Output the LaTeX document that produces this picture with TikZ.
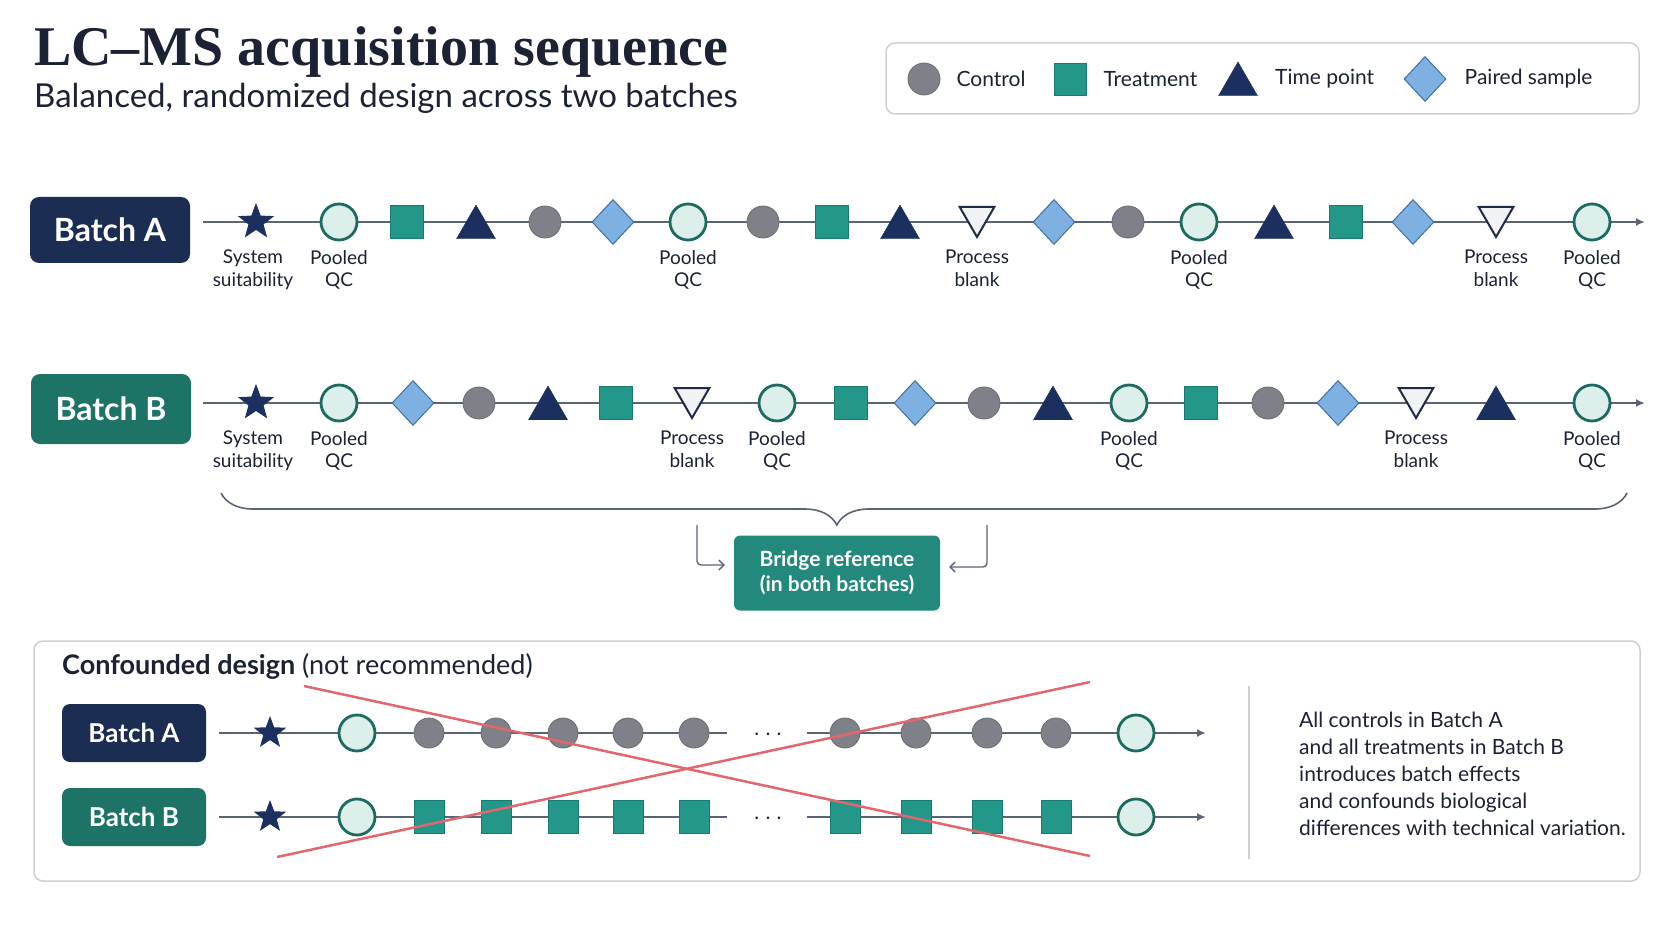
\documentclass[tikz,border=0pt]{standalone}
\usepackage{fontspec}
\setmainfont{Lato}
\newfontfamily\titlefont{Liberation Serif}
\usepackage{xcolor}
\usepackage{tikz}
\usetikzlibrary{positioning, arrows.meta, shapes.geometric, decorations.pathreplacing}
\definecolor{ink}{HTML}{1B2233}
\definecolor{navyBox}{HTML}{1C2D54}
\definecolor{tealBox}{HTML}{1E7367}
\definecolor{bridgeTeal}{HTML}{22897C}
\definecolor{treatTeal}{HTML}{22978A}
\definecolor{treatEdge}{HTML}{1B7A6F}
\definecolor{qcEdge}{HTML}{1C6B60}
\definecolor{qcFill}{HTML}{DCEFEB}
\definecolor{ctrlGray}{HTML}{7E8288}
\definecolor{ctrlEdge}{HTML}{686C72}
\definecolor{tpNavy}{HTML}{1B305E}
\definecolor{pairFill}{HTML}{7EB0E2}
\definecolor{pairEdge}{HTML}{3F6FA5}
\definecolor{blankFill}{HTML}{F1F2F3}
\definecolor{blankEdge}{HTML}{1F2A44}
\definecolor{lineGray}{HTML}{5B6476}
\definecolor{frameGray}{HTML}{CBD0D7}
\definecolor{crossRed}{HTML}{E2676C}
\newcommand{\fsz}[2]{\fontsize{#1}{#2}\selectfont}

\begin{document}
\begin{tikzpicture}[
    x=1pt, y=-1pt,
    >={Latex[length=9pt,width=8pt]},
    seq/.style={draw=lineGray, line width=2pt},
    control/.style={circle, draw=ctrlEdge, line width=0.8pt, fill=ctrlGray, minimum size=32pt, inner sep=0pt},
    treat/.style={rectangle, draw=treatEdge, line width=0.8pt, fill=treatTeal, minimum size=33pt, inner sep=0pt},
    timept/.style={regular polygon, regular polygon sides=3, draw=tpNavy, fill=tpNavy, minimum size=45pt, inner sep=0pt, yshift=-5.5pt},
    paired/.style={diamond, draw=pairEdge, line width=1pt, fill=pairFill, minimum width=42pt, minimum height=45pt, inner sep=0pt},
    pooled/.style={circle, draw=qcEdge, line width=2.8pt, fill=qcFill, minimum size=36pt, inner sep=0pt},
    blank/.style={regular polygon, regular polygon sides=3, shape border rotate=180, draw=blankEdge, line width=2pt, fill=blankFill, minimum size=40pt, inner sep=0pt, yshift=5pt},
    suit/.style={star, star points=5, star point ratio=2.4, fill=tpNavy, minimum size=38pt, inner sep=0pt},
    batch/.style={rounded corners=9pt, fill=#1, text=white, font=\bfseries\fsz{32}{38}, minimum width=160pt, minimum height=66pt},
    smallbatch/.style={rounded corners=8pt, fill=#1, text=white, font=\bfseries\fsz{26}{30}, minimum width=144pt, minimum height=58pt},
    lbl/.style={align=center, anchor=north, font=\fsz{19}{22.5}, text=ink, inner sep=0pt},
    lgtext/.style={anchor=west, font=\fsz{21}{25}, text=ink, inner sep=0pt},
    frame/.style={draw=frameGray, line width=1.5pt, fill=white, rounded corners=9pt},
    bridge/.style={rounded corners=6pt, fill=bridgeTeal, text=white, font=\bfseries\fsz{21}{25}, align=center, minimum width=206pt, minimum height=75pt},
    bridgebrace/.style={decorate, decoration={brace, amplitude=32pt, aspect=0.562}, draw=lineGray, line width=1.6pt},
    bridgearrow/.style={-{Straight Barb[length=5pt,width=10pt]}, draw=lineGray, line width=1.4pt, rounded corners=4pt},
    cross/.style={draw=crossRed, line width=2.5pt},
    divider/.style={draw=frameGray, line width=1.2pt},
    gapdots/.style={font=\fsz{30}{34}, text=ink, inner sep=0pt}
]

\fill[white] (0,0) rectangle (1672,941);
\useasboundingbox (0,0) rectangle (1672,941);

% Title
\node[anchor=base west, inner sep=0pt, font=\titlefont\bfseries\fsz{56}{60}, text=ink] (title) at (34,66) {LC\textendash MS acquisition sequence};
\node[anchor=base west, inner sep=0pt, font=\fsz{33}{38}, text=ink] (subtitle) at (34,108) {Balanced, randomized design across two batches};

% Legend
\node[frame, minimum width=753pt, minimum height=71pt] (legend) at (1262.5,78.5) {};
\node[control] (lgCtrl) at (924,79) {};
\node[lgtext, right=16pt of lgCtrl] (lgCtrlT) {Control};
\node[treat, minimum size=32pt] (lgTreat) at (1070,79) {};
\node[lgtext, right=17pt of lgTreat] (lgTreatT) {Treatment};
\node[timept] (lgTp) at (1238,79) {};
\node[lgtext] (lgTpT) at (1275,79) {Time point};
\node[paired] (lgPair) at (1425,79) {};
\node[lgtext, right=18pt of lgPair] (lgPairT) {Paired sample};

% Batch A
\node[batch=navyBox] (batchA) at (110,230) {Batch A};
\coordinate (rowAstart) at (203,222);
\coordinate (rowAend) at (1645,222);
\draw[seq, ->] (rowAstart) -- (rowAend);
\node[suit] (sysA) at (256,222) {};
\node[pooled] (qcA1) at (339,222) {};
\node[treat] (trA1) at (407,222) {};
\node[timept] (tpA1) at (476,222) {};
\node[control] (ctA1) at (545,222) {};
\node[paired] (prA1) at (613,222) {};
\node[pooled] (qcA2) at (688,222) {};
\node[control] (ctA2) at (763,222) {};
\node[treat] (trA2) at (832,222) {};
\node[timept] (tpA2) at (900,222) {};
\node[blank] (blA1) at (977,222) {};
\node[paired] (prA2) at (1054,222) {};
\node[control] (ctA3) at (1128,222) {};
\node[pooled] (qcA3) at (1199,222) {};
\node[timept] (tpA3) at (1274,222) {};
\node[treat] (trA3) at (1346,222) {};
\node[paired] (prA3) at (1413,222) {};
\node[blank] (blA2) at (1496,222) {};
\node[pooled] (qcA4) at (1592,222) {};

\node[lbl] (lsysA) at (253,250) {System\\suitability};
\node[lbl] (lqcA1) at (339,250) {Pooled\\QC};
\node[lbl] (lqcA2) at (688,250) {Pooled\\QC};
\node[lbl] (lblA1) at (977,250) {Process\\blank};
\node[lbl] (lqcA3) at (1199,250) {Pooled\\QC};
\node[lbl] (lblA2) at (1496,250) {Process\\blank};
\node[lbl] (lqcA4) at (1592,250) {Pooled\\QC};

% Batch B
\node[batch=tealBox, minimum height=70pt] (batchB) at (111,409) {Batch B};
\coordinate (rowBstart) at (203,403);
\coordinate (rowBend) at (1645,403);
\draw[seq, ->] (rowBstart) -- (rowBend);
\node[suit] (sysB) at (256,403) {};
\node[pooled] (qcB1) at (339,403) {};
\node[paired] (prB1) at (413,403) {};
\node[control] (ctB1) at (479,403) {};
\node[timept] (tpB1) at (548,403) {};
\node[treat] (trB1) at (616,403) {};
\node[blank] (blB1) at (692,403) {};
\node[pooled] (qcB2) at (777,403) {};
\node[treat] (trB2) at (851,403) {};
\node[paired] (prB2) at (915,403) {};
\node[control] (ctB2) at (984,403) {};
\node[timept] (tpB2) at (1053,403) {};
\node[pooled] (qcB3) at (1129,403) {};
\node[treat] (trB3) at (1201,403) {};
\node[control] (ctB3) at (1268,403) {};
\node[paired] (prB3) at (1338,403) {};
\node[blank] (blB2) at (1416,403) {};
\node[timept] (tpB3) at (1496,403) {};
\node[pooled] (qcB4) at (1592,403) {};

\node[lbl] (lsysB) at (253,431) {System\\suitability};
\node[lbl] (lqcB1) at (339,431) {Pooled\\QC};
\node[lbl] (lblB1) at (692,431) {Process\\blank};
\node[lbl] (lqcB2) at (777,431) {Pooled\\QC};
\node[lbl] (lqcB3) at (1129,431) {Pooled\\QC};
\node[lbl] (lblB2) at (1416,431) {Process\\blank};
\node[lbl] (lqcB4) at (1592,431) {Pooled\\QC};

% Bridge reference
\coordinate (brL) at (221,493);
\coordinate (brR) at (1627,493);
\draw[bridgebrace] (brR) -- (brL);
\node[bridge] (bridge) at (837,573) {Bridge reference\\(in both batches)};
\coordinate (arrL) at (697,525);
\coordinate (arrR) at (987,525);
\draw[bridgearrow] (arrL) |- ([xshift=-9pt, yshift=8pt]bridge.west);
\draw[bridgearrow] (arrR) |- ([xshift=9pt, yshift=6pt]bridge.east);

% Confounded design panel
\node[frame, minimum width=1606pt, minimum height=240pt] (panel) at (837,761) {};
\node[anchor=base west, inner sep=0pt, font=\fsz{27}{31}, text=ink] (panelT) at (62,674) {\textbf{Confounded design} (not recommended)};

\node[smallbatch=navyBox] (cbatchA) at (134,733) {Batch A};
\coordinate (cAstart) at (219,733);
\coordinate (cAgap1) at (727,733);
\coordinate (cAgap2) at (807,733);
\coordinate (cAend) at (1206,733);
\draw[seq] (cAstart) -- (cAgap1);
\draw[seq, ->] (cAgap2) -- (cAend);
\node[suit, minimum size=34pt] (csysA) at (270,733) {};
\node[pooled] (cqcA1) at (357,733) {};
\node[control, minimum size=30pt] (cctA1) at (429,733) {};
\node[control, minimum size=30pt] (cctA2) at (496,733) {};
\node[control, minimum size=30pt] (cctA3) at (563,733) {};
\node[control, minimum size=30pt] (cctA4) at (628,733) {};
\node[control, minimum size=30pt] (cctA5) at (694,733) {};
\node[gapdots] (cdotsA) at (768,735) {$\cdots$};
\node[control, minimum size=30pt] (cctA6) at (845,733) {};
\node[control, minimum size=30pt] (cctA7) at (916,733) {};
\node[control, minimum size=30pt] (cctA8) at (987,733) {};
\node[control, minimum size=30pt] (cctA9) at (1056,733) {};
\node[pooled] (cqcA2) at (1136,733) {};

\node[smallbatch=tealBox] (cbatchB) at (134,817) {Batch B};
\coordinate (cBstart) at (219,817);
\coordinate (cBgap1) at (727,817);
\coordinate (cBgap2) at (807,817);
\coordinate (cBend) at (1206,817);
\draw[seq] (cBstart) -- (cBgap1);
\draw[seq, ->] (cBgap2) -- (cBend);
\node[suit, minimum size=34pt] (csysB) at (270,817) {};
\node[pooled] (cqcB1) at (357,817) {};
\node[treat, minimum width=30pt, minimum height=33pt] (ctrB1) at (429,817) {};
\node[treat, minimum width=30pt, minimum height=33pt] (ctrB2) at (496,817) {};
\node[treat, minimum width=30pt, minimum height=33pt] (ctrB3) at (563,817) {};
\node[treat, minimum width=30pt, minimum height=33pt] (ctrB4) at (628,817) {};
\node[treat, minimum width=30pt, minimum height=33pt] (ctrB5) at (694,817) {};
\node[gapdots] (cdotsB) at (768,819) {$\cdots$};
\node[treat, minimum width=30pt, minimum height=33pt] (ctrB6) at (845,817) {};
\node[treat, minimum width=30pt, minimum height=33pt] (ctrB7) at (916,817) {};
\node[treat, minimum width=30pt, minimum height=33pt] (ctrB8) at (987,817) {};
\node[treat, minimum width=30pt, minimum height=33pt] (ctrB9) at (1056,817) {};
\node[pooled] (cqcB2) at (1136,817) {};

% Crossed out
\coordinate (xA1) at (304,686);
\coordinate (xA2) at (1090,856);
\coordinate (xB1) at (277,857);
\coordinate (xB2) at (1090,682);
\draw[cross] (xA1) -- (xA2);
\draw[cross] (xB1) -- (xB2);

% Note
\coordinate (divT) at (1249,686);
\coordinate (divB) at (1249,859);
\draw[divider] (divT) -- (divB);
\node[anchor=north west, align=left, inner sep=0pt, font=\fsz{21}{27}, text=ink] (note) at (1299,712) {All controls in Batch A\\and all treatments in Batch B\\introduces batch effects\\and confounds biological\\differences with technical variation.};

\end{tikzpicture}
\end{document}
